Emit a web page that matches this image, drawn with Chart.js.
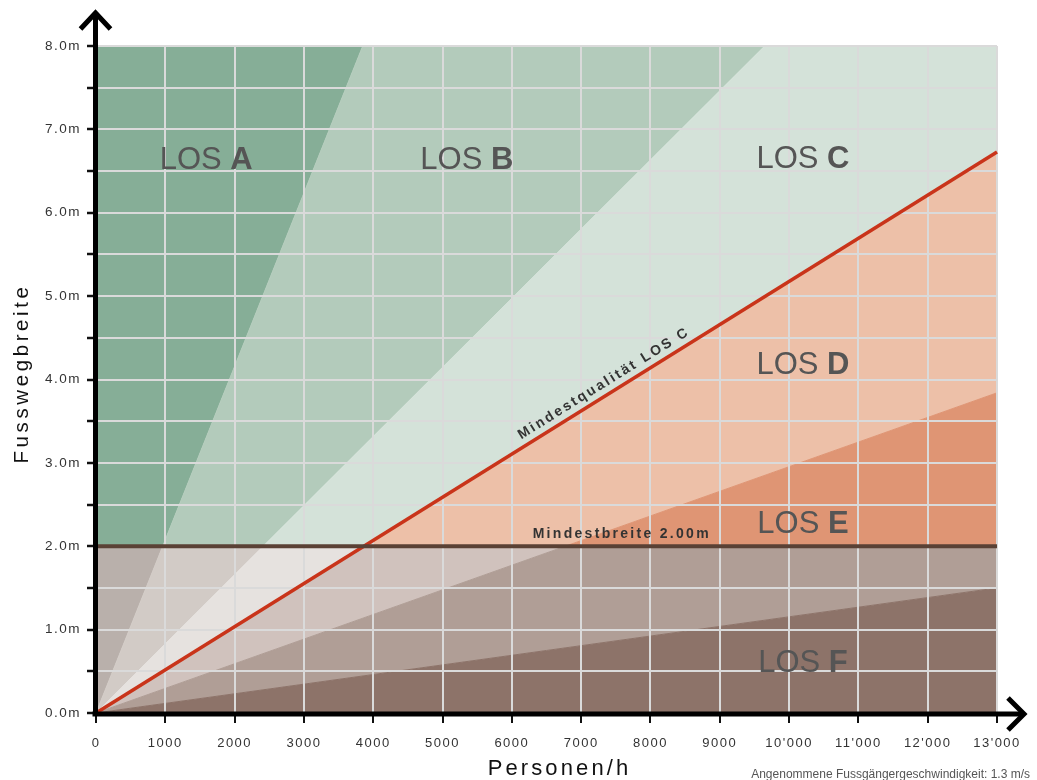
<!DOCTYPE html>
<html lang="de">
<head>
<meta charset="utf-8">
<title>Fusswegbreite und Level of Service</title>
<script src="https://cdn.jsdelivr.net/npm/chart.js@4.4.1/dist/chart.umd.min.js"></script>
<style>
    html, body { margin: 0; padding: 0; background: #fff; }
    #wrap { position: relative; width: 1037px; height: 780px; }
</style>
</head>
<body>
<div id="wrap"><canvas id="chart"></canvas></div>
<script>
// Achsen: Personen/h und Fusswegbreite (m)
const xTicks = [0, 1000, 2000, 3000, 4000, 5000, 6000, 7000, 8000, 9000, 10000, 11000, 12000, 13000];
const yTicks = [0, 0.5, 1, 1.5, 2, 2.5, 3, 3.5, 4, 4.5, 5, 5.5, 6, 6.5, 7, 7.5, 8];
const xMax = 13000;
const yMax = 8;

// Level of Service Zonen
const losNames = ['A', 'B', 'C', 'D', 'E', 'F'];
// Grenzlinien A|B, B|C, C|D, D|E, E|F  (Personen/h pro Meter Breite)
const flowPerMeter = [481, 1206, 1932, 3385, 8667];
const minWidth = 2.0; // Mindestbreite

// Farben über / unter der Mindestbreite
const colorsAbove = ['#86ae97', '#b3cbbb', '#d4e2d9', '#edc0a8', '#df9574', '#8d7369'];
const colorsBelow = ['#b9b0ab', '#d2cbc6', '#e6e2df', '#d0c2bd', '#b09e96', '#8d7369'];

// Lage der LOS-Beschriftungen (Personen/h, m)
const losLabelX = [1590, 5350, 10200, 10200, 10200, 10200];
const losLabelY = [6.66, 6.66, 6.67, 4.2, 2.29, 0.62];

const FONT = "'Liberation Sans', Arial, sans-serif";
Chart.defaults.font.family = FONT;

// Gerade y = x / q, begrenzt auf [lo, hi]
function clampedLine(q, lo, hi) {
    const xs = [0, lo * q, hi * q, xMax].filter(v => v >= 0 && v <= xMax);
    return [...new Set(xs)].sort((a, b) => a - b)
        .map(v => ({ x: v, y: Math.min(hi, Math.max(lo, v / q)) }));
}
function flatLine(v) {
    return [{ x: 0, y: v }, { x: xMax, y: v }];
}

const datasets = [];
// zwei Bänder: unter und über der Mindestbreite
[[0, minWidth, colorsBelow], [minWidth, yMax, colorsAbove]].forEach(([lo, hi, colors]) => {
    const lines = flowPerMeter.slice().reverse().map(q => clampedLine(q, lo, hi));
    lines.push(flatLine(hi));
    lines.forEach((pts, i) => {
        const c = colors[losNames.length - 1 - i];
        datasets.push({
            data: pts,
            backgroundColor: c,
            borderColor: c, // deckt Nähte zwischen den Flächen
            borderWidth: 1,
            fill: i === 0 ? { value: lo } : '-1',
            pointRadius: 0
        });
    });
});
// Mindestqualität LOS C
datasets.push({
    data: clampedLine(flowPerMeter[2], 0, yMax),
    borderColor: '#c9341a',
    borderWidth: 3.5,
    fill: false,
    pointRadius: 0,
    onTop: true
});
// Mindestbreite 2.00m
datasets.push({
    data: flatLine(minWidth),
    borderColor: '#5a4135',
    borderWidth: 4,
    fill: false,
    pointRadius: 0,
    onTop: true
});

// Buchstabenabstand für Achsentitel und Ticks
function spaceOut(scale, titleSpacing, labelSpacing, dx, dy) {
    if (scale._spaced) return;
    scale._spaced = true;
    const drawTitle = scale.drawTitle.bind(scale);
    const drawLabels = scale.drawLabels.bind(scale);
    scale.drawTitle = function () {
        const ctx = this.ctx;
        ctx.save();
        ctx.letterSpacing = titleSpacing + 'px';
        ctx.translate(dx, dy);
        drawTitle();
        ctx.restore();
    };
    scale.drawLabels = function (area) {
        const ctx = this.ctx;
        ctx.save();
        ctx.letterSpacing = labelSpacing + 'px';
        drawLabels(area);
        ctx.restore();
    };
}

function centeredText(ctx, text, cx, baseY, spacing) {
    ctx.letterSpacing = spacing + 'px';
    const w = ctx.measureText(text).width - spacing;
    ctx.textAlign = 'left';
    ctx.fillText(text, cx - w / 2, baseY);
}

const overlay = {
    id: 'overlay',
    afterDraw(chart) {
        const { ctx, chartArea: a } = chart;
        const x = chart.scales.x, y = chart.scales.y;

        // Linien über dem Raster
        chart.data.datasets.forEach((ds, i) => {
            if (ds.onTop) chart.getDatasetMeta(i).dataset.draw(ctx, a);
        });

        // Achsen mit Pfeilen
        const x0 = x.getPixelForValue(0) - 0.5;
        const y0 = y.getPixelForValue(0) + 1;
        ctx.save();
        ctx.strokeStyle = '#000';
        ctx.lineWidth = 5;
        ctx.lineJoin = 'miter';
        ctx.beginPath();
        ctx.moveTo(x0, y0 + 2.5);
        ctx.lineTo(x0, 13);
        ctx.moveTo(x0 - 3, y0);
        ctx.lineTo(1024, y0);
        ctx.stroke();
        ctx.beginPath();
        ctx.moveTo(x0 - 15, 29);
        ctx.lineTo(x0, 13);
        ctx.lineTo(x0 + 15, 29);
        ctx.moveTo(1008, y0 - 16);
        ctx.lineTo(1024, y0);
        ctx.lineTo(1008, y0 + 16);
        ctx.stroke();
        ctx.restore();

        ctx.save();
        ctx.textBaseline = 'alphabetic';
        // LOS-Beschriftungen
        ctx.fillStyle = '#555';
        losNames.forEach((n, i) => {
            const cx = x.getPixelForValue(losLabelX[i]);
            const base = y.getPixelForValue(losLabelY[i]) + 11;
            ctx.letterSpacing = '0px';
            ctx.font = `31px ${FONT}`;
            const w1 = ctx.measureText('LOS ').width;
            ctx.font = `bold 31px ${FONT}`;
            const w2 = ctx.measureText(n).width;
            const left = cx - (w1 + w2) / 2;
            ctx.textAlign = 'left';
            ctx.font = `31px ${FONT}`;
            ctx.fillText('LOS ', left, base);
            ctx.font = `bold 31px ${FONT}`;
            ctx.fillText(n, left + w1, base);
        });

        // Mindestqualität entlang der roten Linie
        const q = flowPerMeter[2];
        const ang = Math.atan2(
            y.getPixelForValue(xMax / q) - y.getPixelForValue(0),
            x.getPixelForValue(xMax) - x.getPixelForValue(0));
        ctx.fillStyle = '#333';
        ctx.save();
        ctx.translate(x.getPixelForValue(7400), y.getPixelForValue(7400 / q));
        ctx.rotate(ang);
        ctx.font = `bold 14px ${FONT}`;
        centeredText(ctx, 'Mindestqualität LOS C', 0, -7.5, 2.4);
        ctx.restore();

        // Mindestbreite
        ctx.font = `bold 14px ${FONT}`;
        centeredText(ctx, 'Mindestbreite 2.00m', x.getPixelForValue(7570), y.getPixelForValue(minWidth) - 8, 2.3);

        // Hinweis
        ctx.letterSpacing = '0px';
        ctx.font = `12px ${FONT}`;
        ctx.fillStyle = '#555';
        ctx.textAlign = 'right';
        ctx.fillText('Angenommene Fussgängergeschwindigkeit: 1.3 m/s', chart.width - 7, 778);
        ctx.restore();
    }
};

new Chart(document.getElementById('chart'), {
    type: 'line',
    data: { datasets },
    options: {
        responsive: true,
        maintainAspectRatio: false,
        animation: false,
        events: [],
        layout: { padding: { top: 46, right: 40, left: 0, bottom: 0 } },
        plugins: {
            legend: { display: false },
            tooltip: { enabled: false }
        },
        scales: {
            x: {
                type: 'linear',
                min: 0,
                max: xMax,
                afterFit: s => { s.height = 67; },
                afterBuildTicks: s => { s.ticks = xTicks.map(v => ({ value: v })); },
                afterUpdate: s => spaceOut(s, 3.1, 1.5, 13, 0),
                ticks: {
                    callback: v => v < 10000 ? String(v) : (v / 1000) + "'000",
                    color: '#333',
                    font: { size: 13 },
                    padding: 13,
                    maxRotation: 0,
                    autoSkip: false
                },
                grid: { z: 1, color: '#dadada', lineWidth: 2, tickColor: '#111', tickLength: 10, tickWidth: 2 },
                border: { display: false },
                title: { display: true, text: 'Personen/h', color: '#111', font: { size: 22, lineHeight: 1 }, padding: 0 }
            },
            y: {
                min: 0,
                max: yMax,
                afterFit: s => { s.width = 96; },
                afterBuildTicks: s => { s.ticks = yTicks.map(v => ({ value: v })); },
                afterUpdate: s => spaceOut(s, 3.6, 1.5, 0, -6),
                ticks: {
                    callback: v => Number.isInteger(v) ? v.toFixed(1) + 'm' : '',
                    color: '#333',
                    font: { size: 13.5 },
                    padding: 6,
                    autoSkip: false
                },
                grid: { z: 1, color: '#dadada', lineWidth: 2, tickColor: '#111', tickLength: 9, tickWidth: 2.5 },
                border: { display: false },
                title: { display: true, text: 'Fusswegbreite', color: '#111', font: { size: 20.5, lineHeight: 1 }, padding: { top: 12 } }
            }
        }
    },
    plugins: [overlay]
});
</script>
</body>
</html>
